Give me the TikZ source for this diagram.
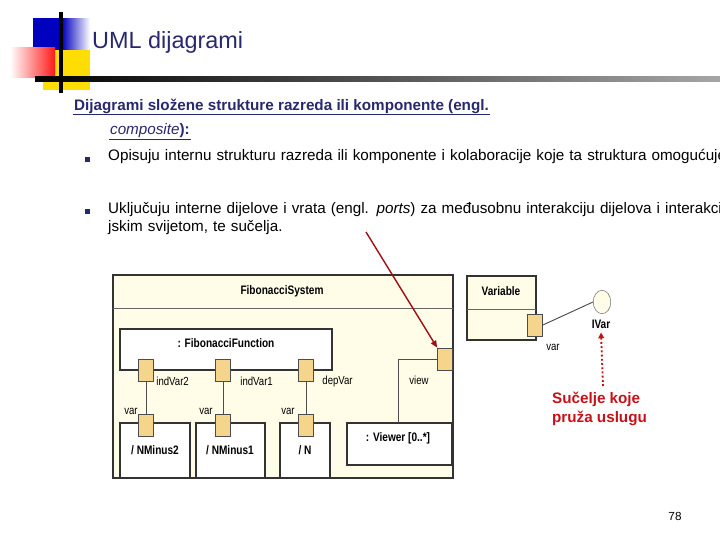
\documentclass[tikz,border=0pt]{standalone}
\usepackage{fontspec}
\setmainfont{Liberation Sans}
\newfontfamily\narrowfont[FakeStretch=0.82]{Liberation Sans}
\usetikzlibrary{arrows.meta,shapes.geometric,calc}
\definecolor{navy}{RGB}{40,40,110}
\definecolor{cream}{RGB}{255,253,232}
\definecolor{porttan}{RGB}{245,212,140}
\definecolor{darkred}{RGB}{200,16,24}
\begin{document}
\begin{tikzpicture}[x=0.3mm,y=-0.3mm]
    \tikzstyle{PartStyle}=[draw=black!80, line width=1pt, fill=white]
    \tikzstyle{PortStyle}=[draw=black!70, fill=porttan, minimum width=13pt, minimum height=19pt, inner sep=0pt]
    \tikzstyle{LabelStyle}=[font=\narrowfont\fontsize{10}{11}\selectfont, inner sep=1pt]
    \tikzstyle{NameStyle}=[font=\narrowfont\bfseries\fontsize{10.5}{12}\selectfont]
    \tikzstyle{WireStyle}=[draw=black!70, line width=0.8pt]
   \useasboundingbox (0,0) rectangle (720,540);
   % title decoration
   \fill[blue!75!black] (33,18) rectangle (62,50);
   \fill[left color=blue!75!black, right color=white] (62,18) rectangle (90,50);
   \fill[yellow!80!orange] (43,50) rectangle (90,90);
   \fill[left color=white, right color=red!90] (10,47) rectangle (55,77);
   \fill[left color=black, right color=black!35] (35,76) rectangle (720,81);
   \fill[black] (59,12) rectangle (63,93);
   \node[anchor=west, text=navy, font=\fontsize{20}{24}\selectfont] (title) at (88,42) {UML dijagrami};
   % text
   \node[anchor=west, font=\bfseries\fontsize{13}{15}\selectfont, text=navy] (head) at (70,106)
     {Dijagrami složene strukture razreda ili komponente (engl.};
   \draw[navy, line width=0.8pt] ($(head.south west)+(3,-3)$) -- ($(head.south east)+(-3,-3)$);
   \node[anchor=west, font=\bfseries\fontsize{13}{15}\selectfont, text=navy] (head2) at (106,131)
     {\textit{\mdseries composite}):};
   \draw[navy, line width=0.8pt] ($(head2.south west)+(3,-3)$) -- ($(head2.south east)+(-3,-3)$);
   \fill[navy] (85,157) rectangle (90,162);
   \fill[navy] (85,209) rectangle (90,214);
   \node[anchor=north west, align=left, text width=590, inner sep=0pt, font=\fontsize{13}{15.5}\selectfont] (b1) at (108,149)
     {Opisuju internu strukturu razreda ili komponente i kolaboracije koje ta struktura omogućuje.};
   \node[anchor=north west, align=left, text width=590, inner sep=0pt, font=\fontsize{13}{15.5}\selectfont] (b2) at (108,202)
     {Uključuju interne dijelove i vrata (engl. \textit{ports}) za međusobnu interakciju dijelova i interakciju s vanjskim svijetom, te sučelja.};
   % FibonacciSystem
   \draw[draw=black!80, line width=1pt, fill=cream] (113,275) rectangle (453,478);
   \draw[black!60] (113,308) -- (453,308);
   \node[NameStyle] (sys) at (282,291) {FibonacciSystem};
   \draw[PartStyle] (120,329) rectangle (332,370);
   \node[NameStyle] (fun) at (226,343) {: FibonacciFunction};
   \draw[PartStyle] (120,423) rectangle (190,478);
   \draw[PartStyle] (196,423) rectangle (265,478);
   \draw[PartStyle] (280,423) rectangle (330,478);
   \draw[PartStyle] (347,423) rectangle (452,465);
   \node[NameStyle] at (155,450) {/ NMinus2};
   \node[NameStyle] at (230,450) {/ NMinus1};
   \node[NameStyle] at (305,450) {/ N};
   \node[NameStyle] at (398,438) {: Viewer [0..*]};
   \node[PortStyle] (p1) at (146,370) {};
   \node[PortStyle] (p2) at (223,370) {};
   \node[PortStyle] (p3) at (306,370) {};
   \node[PortStyle] (q1) at (146,425) {};
   \node[PortStyle] (q2) at (223,425) {};
   \node[PortStyle] (q3) at (306,425) {};
   \node[PortStyle] (pv) at (445,359) {};
   \draw[WireStyle] (p1) -- (q1);
   \draw[WireStyle] (p2) -- (q2);
   \draw[WireStyle] (p3) -- (q3);
   \draw[WireStyle] (pv.west) -- (398,359) -- (398,423);
   \node[LabelStyle, anchor=west] at (155,381) {indVar2};
   \node[LabelStyle, anchor=west] at (239,381) {indVar1};
   \node[LabelStyle, anchor=west] at (321,381) {depVar};
   \node[LabelStyle, anchor=west] at (408,380) {view};
   \node[LabelStyle, anchor=east] at (139,411) {var};
   \node[LabelStyle, anchor=east] at (214,411) {var};
   \node[LabelStyle, anchor=east] at (296,411) {var};
   % Variable
   \draw[draw=black!80, line width=1pt, fill=cream] (467,276) rectangle (536,340);
   \draw[black!60] (467,309) -- (536,309);
   \node[NameStyle] (var) at (501,291) {Variable};
   \node[PortStyle] (pvar) at (535,325) {};
   \node[LabelStyle] at (553,347) {var};
   \node[draw=black!60, fill=cream, ellipse, minimum width=15pt, minimum height=20pt, inner sep=0pt] (ivar) at (602,302) {};
   \draw[WireStyle] (pvar.east) -- (ivar.west);
   \node[NameStyle] (ivarl) at (601,324) {IVar};
   % red notes
   \node[anchor=north west, align=left, text=darkred, font=\bfseries\fontsize{13}{16}\selectfont] (note) at (548,388) {Sučelje koje\\pruža uslugu};
   \coordinate (ns) at (603,386);
   \draw[darkred, line width=1.6pt, dotted, -{Triangle[length=5pt,width=5pt]}] (ns) -- (ivarl.south);
   \coordinate (vr) at (366,232);
   \draw[darkred!80!black, line width=1.2pt, -{Triangle[length=6pt,width=5pt]}] (vr) -- (pv.north west);
   \node[font=\fontsize{10}{12}\selectfont] (page) at (675,516) {78};
\end{tikzpicture}
\end{document}
